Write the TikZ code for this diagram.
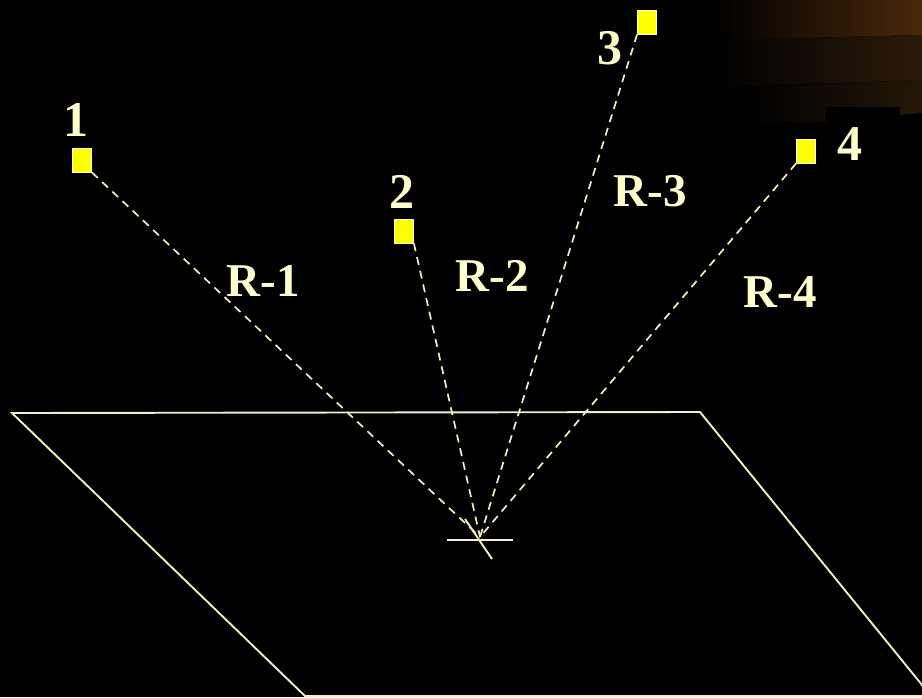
\documentclass[tikz,border=0pt]{standalone}
\usepackage{fontspec}
\setmainfont{Liberation Serif}
\definecolor{cream}{RGB}{255,255,204}
\definecolor{linec}{RGB}{242,240,190}
\definecolor{srcyel}{RGB}{255,255,0}
\definecolor{brA}{RGB}{74,40,10}
\definecolor{brB}{RGB}{44,27,10}
\definecolor{brC}{RGB}{36,23,8}
\begin{document}
\begin{tikzpicture}[x=1pt,y=-1pt,
  lbl/.style={text=cream, font=\fontsize{47}{50}\selectfont\bfseries, inner sep=0pt},
  num/.style={text=cream, font=\fontsize{50}{54}\selectfont\bfseries, inner sep=0pt},
  src/.style={draw=cream, fill=srcyel, line width=0.8pt, minimum width=19pt, minimum height=24pt, inner sep=0pt},
  ray/.style={draw=linec, line width=1.7pt, dash pattern=on 8pt off 6pt},
  plane/.style={draw=linec, line width=1.9pt}]
\useasboundingbox (0,0) rectangle (922,697);
\clip (0,0) rectangle (922,697);
\fill[black] (0,0) rectangle (922,697);
% decorative gradient bands, top right
\shade[left color=black, right color=brA] (715,0) -- (922,0) -- (922,35) -- (715,40) -- cycle;
\shade[left color=black, right color=brB] (715,40) -- (922,35) -- (922,80) -- (715,87) -- cycle;
\shade[left color=black, right color=brC] (745,87) -- (922,80) -- (922,113) -- (900,115) -- (900,107) -- (826,107) -- (826,122) -- (745,122) -- cycle;
% plane
\draw[plane] (12,413) -- (700,412) -- (931,696) -- (305,696) -- cycle;
% sources
\node[src] (s1) at (82,160) {};
\node[src] (s2) at (404,231) {};
\node[src] (s3) at (647,22) {};
\node[src] (s4) at (806,151) {};
\node[num] (n1) at (76,120) {1};
\node[num] (n2) at (402,192) {2};
\node[num] (n3) at (610,48) {3};
\node[num] (n4) at (850,144) {4};
% convergence point
\coordinate (P) at (480,537);
\draw[ray] (s1.south east) -- (P);
\draw[ray] (s2.south east) -- (P);
\draw[ray] (s3.south west) -- (P);
\draw[ray] (s4.south west) -- (P);
% marker at receiver
\coordinate (h1) at (447,540);
\coordinate (h2) at (513,540);
\coordinate (t1) at (465,519);
\coordinate (t2) at (492,559);
\draw[plane] (h1) -- (h2);
\draw[plane] (t1) -- (t2);
% ray labels
\node[lbl] (r1) at (263,281) {R-1};
\node[lbl] (r2) at (492,276) {R-2};
\node[lbl] (r3) at (650,191) {R-3};
\node[lbl] (r4) at (780,292) {R-4};
\end{tikzpicture}
\end{document}
